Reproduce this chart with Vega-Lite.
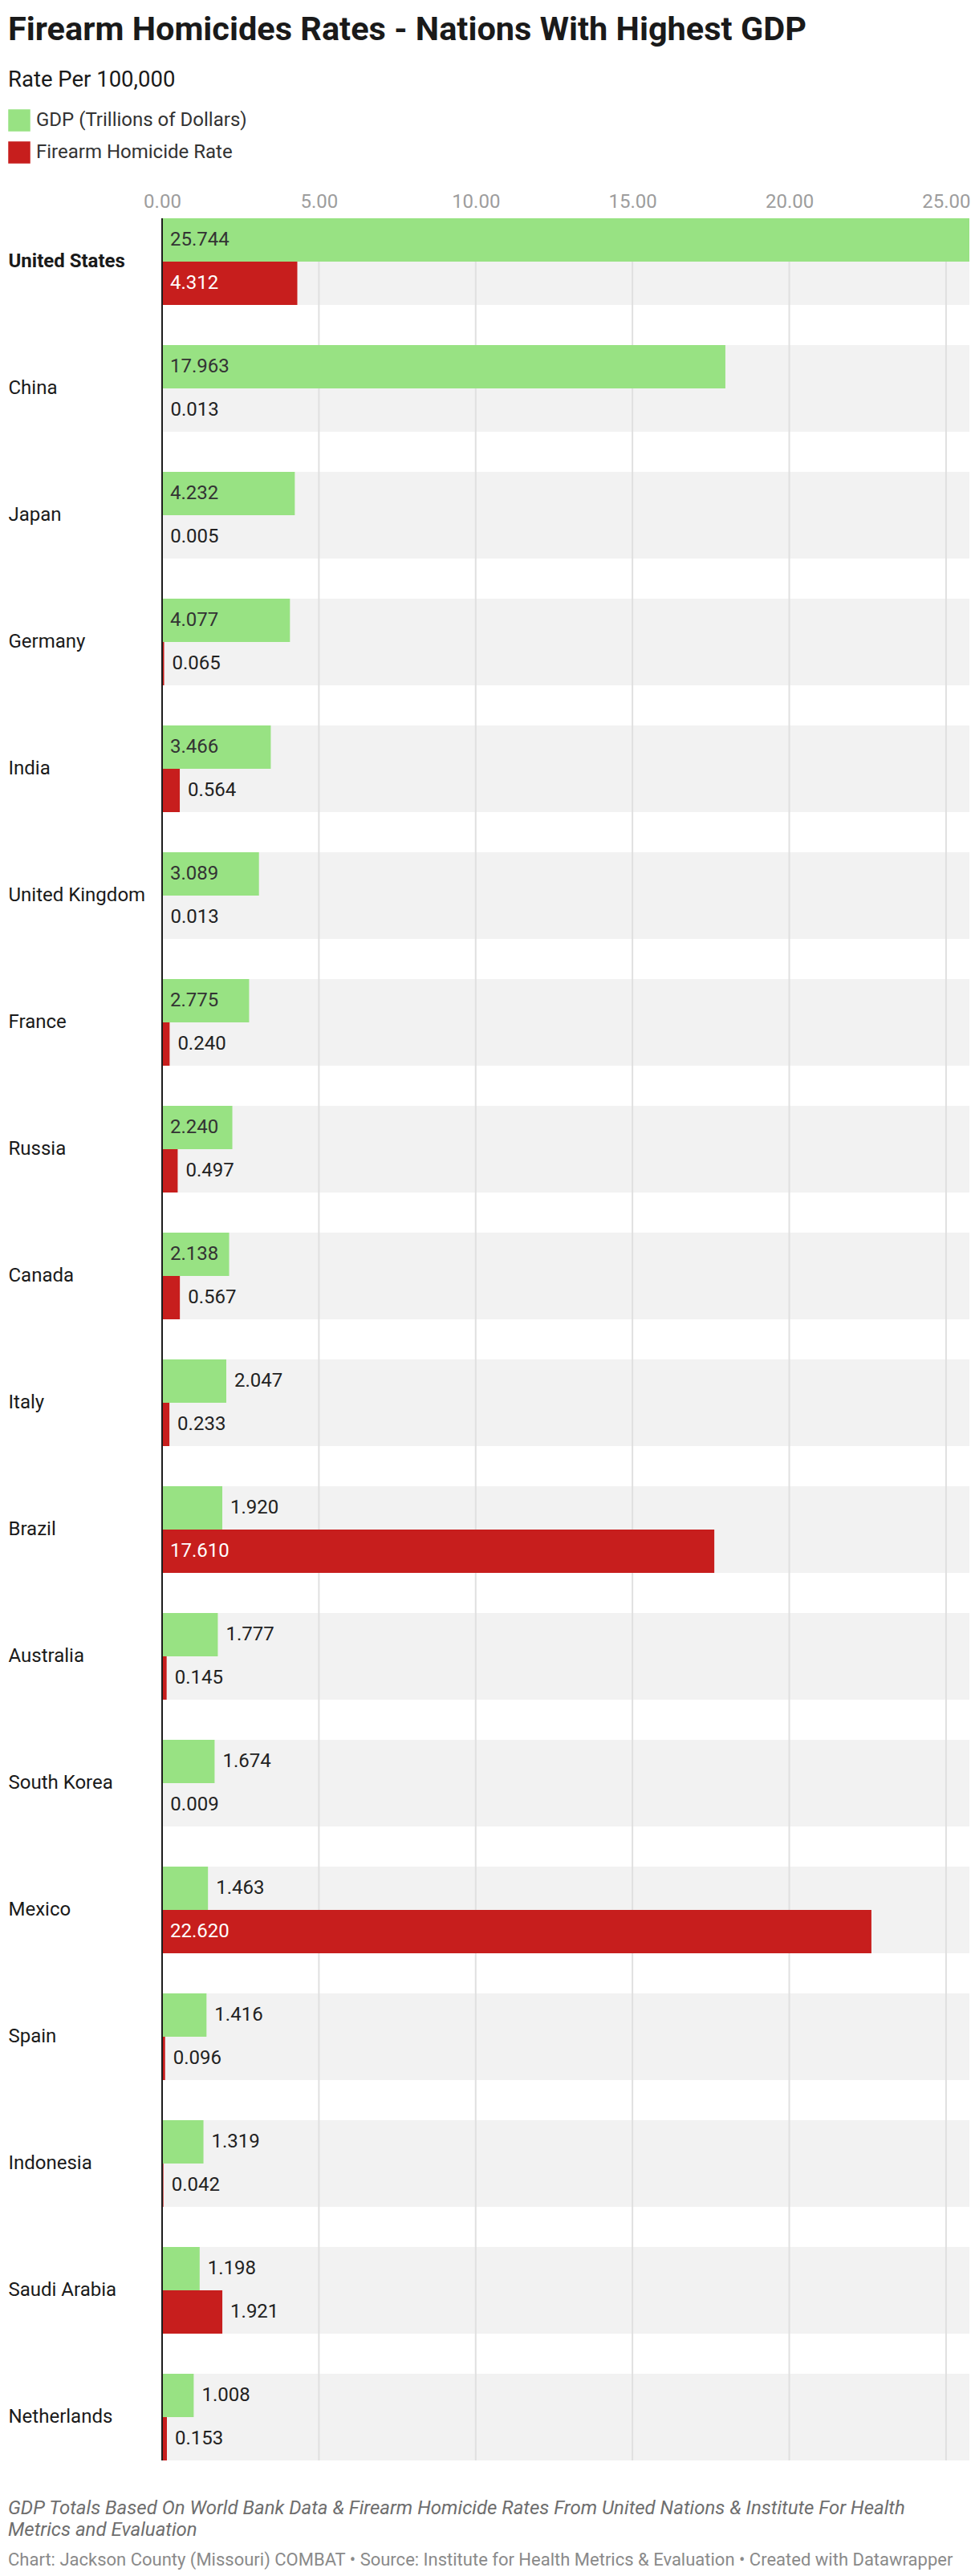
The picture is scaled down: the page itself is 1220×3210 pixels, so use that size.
{
  "$schema": "https://vega.github.io/schema/vega-lite/v6.json",
  "background": "#ffffff",
  "padding": {"left": 10, "top": 17, "right": 12, "bottom": 10},
  "title": {
    "text": "Firearm Homicides Rates - Nations With Highest GDP",
    "subtitle": "Rate Per 100,000",
    "anchor": "start",
    "frame": "bounds",
    "font": "Roboto",
    "fontSize": 41.5,
    "fontWeight": "bold",
    "color": "#1a1a1a",
    "subtitleFont": "Roboto",
    "subtitleFontSize": 27.5,
    "subtitleColor": "#1a1a1a",
    "subtitlePadding": 27,
    "offset": 23
  },
  "datasets": {
    "bars": [
      {"country": "United States", "series": "GDP (Trillions of Dollars)", "value": 25.744},
      {"country": "United States", "series": "Firearm Homicide Rate", "value": 4.312},
      {"country": "China", "series": "GDP (Trillions of Dollars)", "value": 17.963},
      {"country": "China", "series": "Firearm Homicide Rate", "value": 0.013},
      {"country": "Japan", "series": "GDP (Trillions of Dollars)", "value": 4.232},
      {"country": "Japan", "series": "Firearm Homicide Rate", "value": 0.005},
      {"country": "Germany", "series": "GDP (Trillions of Dollars)", "value": 4.077},
      {"country": "Germany", "series": "Firearm Homicide Rate", "value": 0.065},
      {"country": "India", "series": "GDP (Trillions of Dollars)", "value": 3.466},
      {"country": "India", "series": "Firearm Homicide Rate", "value": 0.564},
      {"country": "United Kingdom", "series": "GDP (Trillions of Dollars)", "value": 3.089},
      {"country": "United Kingdom", "series": "Firearm Homicide Rate", "value": 0.013},
      {"country": "France", "series": "GDP (Trillions of Dollars)", "value": 2.775},
      {"country": "France", "series": "Firearm Homicide Rate", "value": 0.240},
      {"country": "Russia", "series": "GDP (Trillions of Dollars)", "value": 2.240},
      {"country": "Russia", "series": "Firearm Homicide Rate", "value": 0.497},
      {"country": "Canada", "series": "GDP (Trillions of Dollars)", "value": 2.138},
      {"country": "Canada", "series": "Firearm Homicide Rate", "value": 0.567},
      {"country": "Italy", "series": "GDP (Trillions of Dollars)", "value": 2.047},
      {"country": "Italy", "series": "Firearm Homicide Rate", "value": 0.233},
      {"country": "Brazil", "series": "GDP (Trillions of Dollars)", "value": 1.920},
      {"country": "Brazil", "series": "Firearm Homicide Rate", "value": 17.610},
      {"country": "Australia", "series": "GDP (Trillions of Dollars)", "value": 1.777},
      {"country": "Australia", "series": "Firearm Homicide Rate", "value": 0.145},
      {"country": "South Korea", "series": "GDP (Trillions of Dollars)", "value": 1.674},
      {"country": "South Korea", "series": "Firearm Homicide Rate", "value": 0.009},
      {"country": "Mexico", "series": "GDP (Trillions of Dollars)", "value": 1.463},
      {"country": "Mexico", "series": "Firearm Homicide Rate", "value": 22.620},
      {"country": "Spain", "series": "GDP (Trillions of Dollars)", "value": 1.416},
      {"country": "Spain", "series": "Firearm Homicide Rate", "value": 0.096},
      {"country": "Indonesia", "series": "GDP (Trillions of Dollars)", "value": 1.319},
      {"country": "Indonesia", "series": "Firearm Homicide Rate", "value": 0.042},
      {"country": "Saudi Arabia", "series": "GDP (Trillions of Dollars)", "value": 1.198},
      {"country": "Saudi Arabia", "series": "Firearm Homicide Rate", "value": 1.921},
      {"country": "Netherlands", "series": "GDP (Trillions of Dollars)", "value": 1.008},
      {"country": "Netherlands", "series": "Firearm Homicide Rate", "value": 0.153}
    ],
    "ticks": [{"tick": 0}, {"tick": 5}, {"tick": 10}, {"tick": 15}, {"tick": 20}, {"tick": 25}]
  },
  "vconcat": [
    {
      "width": 1006,
      "height": 2794,
      "title": {
        "text": ["GDP Totals Based On World Bank Data & Firearm Homicide Rates From United Nations & Institute For Health", "Metrics and Evaluation"],
        "subtitle": "Chart: Jackson County (Missouri) COMBAT • Source: Institute for Health Metrics & Evaluation • Created with Datawrapper",
        "orient": "bottom",
        "anchor": "start",
        "frame": "bounds",
        "font": "Roboto",
        "fontSize": 24,
        "fontStyle": "italic",
        "fontWeight": "normal",
        "lineHeight": 27,
        "color": "#6e6e6e",
        "subtitleFont": "Roboto",
        "subtitleFontSize": 22,
        "subtitleFontStyle": "normal",
        "subtitleColor": "#8a8a8a",
        "subtitlePadding": 15,
        "offset": 46.5
      },
      "layer": [
        {
          "data": {"name": "bars"},
          "transform": [{"filter": "datum.series == 'GDP (Trillions of Dollars)'"}],
          "mark": {"type": "bar", "color": "#f2f2f2"},
          "encoding": {
            "y": {
              "field": "country", "type": "nominal", "sort": null, "title": null,
              "scale": {"paddingInner": 0.31646, "paddingOuter": 0},
              "axis": {
                "domain": false, "ticks": false, "tickSize": 0, "grid": false,
                "labelAlign": "left", "labelBaseline": "middle", "labelPadding": 192,
                "labelFont": "Roboto", "labelFontSize": 24, "labelColor": "#1a1a1a",
                "labelLimit": 400,
                "labelFontWeight": {"condition": {"test": "datum.value == 'United States'", "value": "bold"}, "value": "normal"},
                "title": null
              }
            },
            "x": {
              "datum": 0, "type": "quantitative", "title": null,
              "scale": {"domain": [0, 25.744], "nice": false, "zero": true},
              "axis": {
                "orient": "top", "values": [0, 5, 10, 15, 20, 25], "format": ".2f",
                "grid": false, "domain": false, "ticks": false, "tickSize": 0,
                "labelFont": "Roboto", "labelFontSize": 24, "labelColor": "#9d9d9d",
                "labelPadding": 14, "labelBaseline": "alphabetic", "labelFlush": false,
                "title": null
              }
            },
            "x2": {"datum": 25.744}
          }
        },
        {
          "data": {"name": "ticks"},
          "transform": [{"filter": "datum.tick > 0"}],
          "mark": {"type": "rule", "color": "#e0e0e0", "strokeWidth": 2},
          "encoding": {"x": {"field": "tick", "type": "quantitative", "title": null}}
        },
        {
          "data": {"name": "bars"},
          "mark": {"type": "bar"},
          "encoding": {
            "y": {"field": "country", "type": "nominal", "sort": null, "title": null},
            "yOffset": {
              "field": "series", "type": "nominal",
              "sort": ["GDP (Trillions of Dollars)", "Firearm Homicide Rate"],
              "scale": {"paddingInner": 0, "paddingOuter": 0}
            },
            "x": {"field": "value", "type": "quantitative", "title": null},
            "color": {
              "field": "series", "type": "nominal",
              "scale": {"domain": ["GDP (Trillions of Dollars)", "Firearm Homicide Rate"], "range": ["#98e283", "#c71e1d"]},
              "legend": {
                "orient": "none", "legendX": -192, "legendY": -136, "title": null,
                "direction": "vertical", "symbolType": "square", "symbolSize": 756,
                "symbolStrokeWidth": 0, "symbolOpacity": 1,
                "labelFont": "Roboto", "labelFontSize": 24, "labelColor": "#333333",
                "labelOffset": 7, "rowPadding": 12, "padding": 0, "labelLimit": 600
              }
            }
          }
        },
        {
          "data": {"name": "ticks"},
          "transform": [{"filter": "datum.tick == 0"}],
          "mark": {"type": "rule", "color": "#1d1d1d", "strokeWidth": 2},
          "encoding": {"x": {"field": "tick", "type": "quantitative", "title": null}}
        },
        {
          "data": {"name": "bars"},
          "transform": [{"filter": "datum.value >= 2.1"}],
          "mark": {"type": "text", "align": "left", "baseline": "middle", "dx": 10, "font": "Roboto", "fontSize": 24},
          "encoding": {
            "y": {"field": "country", "type": "nominal", "sort": null, "title": null},
            "yOffset": {"field": "series", "type": "nominal", "sort": ["GDP (Trillions of Dollars)", "Firearm Homicide Rate"]},
            "x": {"datum": 0, "type": "quantitative", "title": null},
            "text": {"field": "value", "type": "quantitative", "format": ".3f"},
            "color": {"condition": {"test": "datum.series == 'Firearm Homicide Rate'", "value": "#ffffff"}, "value": "#333333"}
          }
        },
        {
          "data": {"name": "bars"},
          "transform": [{"filter": "datum.value < 2.1"}],
          "mark": {"type": "text", "align": "left", "baseline": "middle", "dx": 10, "font": "Roboto", "fontSize": 24, "color": "#222222"},
          "encoding": {
            "y": {"field": "country", "type": "nominal", "sort": null, "title": null},
            "yOffset": {"field": "series", "type": "nominal", "sort": ["GDP (Trillions of Dollars)", "Firearm Homicide Rate"]},
            "x": {"field": "value", "type": "quantitative", "title": null},
            "text": {"field": "value", "type": "quantitative", "format": ".3f"}
          }
        }
      ]
    }
  ],
  "config": {
    "font": "Roboto",
    "view": {"stroke": null}
  }
}
